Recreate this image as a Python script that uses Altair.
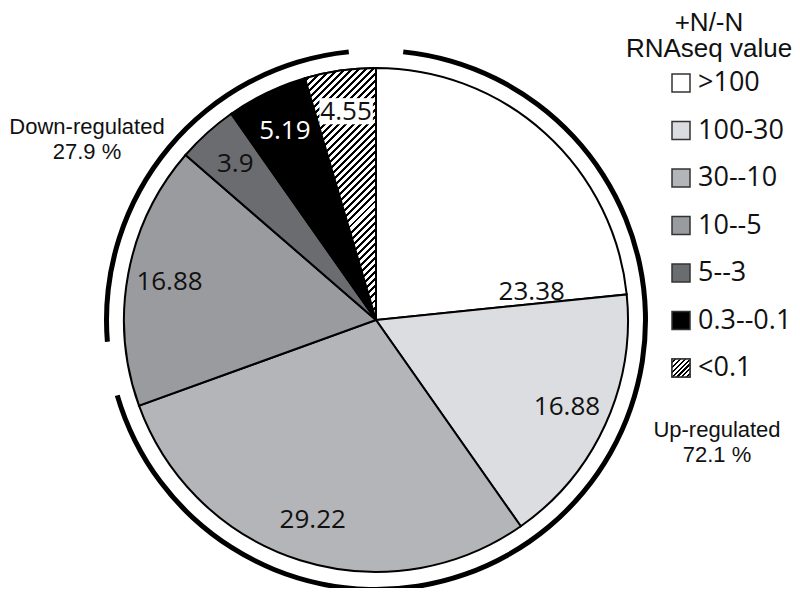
import math
import altair as alt
import pandas as pd

# ---------------- data ----------------
cats = [">100", "100-30", "30--10", "10--5", "5--3", "0.3--0.1", "<0.1"]
values = [23.38, 16.88, 29.22, 16.88, 3.9, 5.19, 4.55]
labels = ["23.38", "16.88", "29.22", "16.88", "3.9", "5.19", "4.55"]
colors = ["#ffffff", "#dcdde0", "#b4b5b8", "#9a9b9e", "#6b6c6f", "#000000", "#ffffff"]
legend_title = ["+N/-N", "RNAseq value"]
group_names = ["Up-regulated", "Down-regulated"]
group_pct = [72.1, 27.9]
hatched_cat = "<0.1"
white_label_cat = "0.3--0.1"

# ---------------- style ----------------
CX, CY = 368, 312          # pie centre (chart coords)
R = 252                    # pie radius
ARC_R0, ARC_R1 = 267, 272  # outer bracket arcs
GAP = math.radians(5.8)    # gap at ends of bracket arcs
LABEL_R = 210
FONT_NUM = "Open Sans"
FONT_TXT = "Liberation Sans"

df = pd.DataFrame({"cat": cats, "value": values, "label": labels,
                   "idx": list(range(len(cats)))})
df["main_label"] = [("" if i == 0 else l) for i, l in enumerate(labels)]
df["first_label"] = [(l if i == 0 else "") for i, l in enumerate(labels)]
df["box"] = [("\u2588\u2588\u2588\u2588" if c == hatched_cat else "") for c in cats]


def hatch(w, h, period, black_frac=0.4):
    k = (w + h) / (w * w + h * h)
    n = (w + h) / math.sqrt(2) / period
    stops = []
    i = 0
    while i / n < 1:
        o0 = min(i / n, 1)
        o1 = min((i + 1 - black_frac) / n, 1)
        o2 = min((i + 1) / n, 1)
        stops += [{"offset": o0, "color": "white"}, {"offset": o1, "color": "white"},
                  {"offset": o1, "color": "black"}, {"offset": o2, "color": "black"}]
        i += 1
    return {"gradient": "linear", "x1": 0, "y1": 0, "x2": k * w, "y2": k * h,
            "stops": stops}


total = sum(values)
hi = cats.index(hatched_cat)
a0 = sum(values[:hi]) / total * 2 * math.pi
a1 = sum(values[:hi + 1]) / total * 2 * math.pi
pts = [(0.0, 0.0), (R * math.sin(a0), -R * math.cos(a0)), (R * math.sin(a1), -R * math.cos(a1))]
for q in range(9):
    ang = q * math.pi / 2
    if a0 < ang < a1:
        pts.append((R * math.sin(ang), -R * math.cos(ang)))
bw = max(p[0] for p in pts) - min(p[0] for p in pts)
bh = max(p[1] for p in pts) - min(p[1] for p in pts)
wedge_hatch = hatch(bw, bh, 5.0, 0.42)
legend_hatch = hatch(18, 18, 3.4, 0.45)

base = alt.Chart(df)
theta = alt.Theta("value:Q", stack=True)
order = alt.Order("idx:Q", sort="ascending")
fill_scale = alt.Scale(domain=cats, range=colors)
px, py = alt.value(CX), alt.value(CY)

pie = base.mark_arc(radius=R, stroke="black", strokeWidth=2).encode(
    theta=theta, order=order, x=px, y=py,
    fill=alt.Fill("cat:N", scale=fill_scale, legend=None))

pie_hatch = base.mark_arc(radius=R, stroke="black", strokeWidth=2).encode(
    theta=theta, order=order, x=px, y=py,
    fill=alt.condition(alt.datum.cat == hatched_cat, alt.value(wedge_hatch),
                       alt.value("transparent")),
    strokeOpacity=alt.condition(alt.datum.cat == hatched_cat, alt.value(1), alt.value(0)))

box = base.mark_text(radius=LABEL_R, font="DejaVu Sans Mono", fontSize=22,
                     baseline="middle", color="white").encode(
    theta=theta, order=order, x=px, y=py, text="box:N")

lab = base.mark_text(radius=LABEL_R, font=FONT_NUM, fontSize=26, baseline="middle").encode(
    theta=theta, order=order, x=px, y=py, text="main_label:N",
    color=alt.condition(alt.datum.cat == white_label_cat, alt.value("white"),
                        alt.value("#111111")))

lab_first = base.mark_text(radius=LABEL_R, font=FONT_NUM, fontSize=26, baseline="middle",
                           dx=15, dy=128, color="#111111").encode(
    theta=theta, order=order, x=px, y=py, text="first_label:N")

# bracket arcs for up / down regulated
cum = 0.0
arc_layers = []
for g, p in zip(group_names, group_pct):
    t0 = cum / 100 * 2 * math.pi + GAP
    t1 = (cum + p) / 100 * 2 * math.pi - GAP
    cum += p
    arc_layers.append(
        alt.Chart(pd.DataFrame({"g": [g]})).mark_arc(color="black").encode(
            theta=alt.value(t0), theta2=alt.value(t1),
            radius=alt.value(ARC_R0), radius2=alt.value(ARC_R1), x=px, y=py))

one = alt.Chart(pd.DataFrame({"k": [0]}))
up_text = one.mark_text(font=FONT_TXT, fontSize=22, align="center", lineHeight=25,
                        baseline="alphabetic", color="#111").encode(
    x=alt.value(709), y=alt.value(429),
    text=alt.value([group_names[0], f"{group_pct[0]} %"]))
down_text = one.mark_text(font=FONT_TXT, fontSize=22, align="center", lineHeight=25,
                          baseline="alphabetic", color="#111").encode(
    x=alt.value(79), y=alt.value(126),
    text=alt.value([group_names[1], f"{group_pct[1]} %"]))
title_text = one.mark_text(font=FONT_TXT, fontSize=26, align="center", lineHeight=26,
                           baseline="alphabetic", color="#111").encode(
    x=alt.value(701), y=alt.value(23), text=alt.value(legend_title))

# manual legend
leg_y = alt.Y("cat:N", axis=None,
              scale=alt.Scale(type="point", domain=cats, range=[75, 360], padding=0))
leg_sq = base.mark_point(shape="square", filled=True, size=324, stroke="#333333",
                         strokeWidth=1.5, opacity=1).encode(
    x=alt.value(673), y=leg_y, fill=alt.Fill("cat:N", scale=fill_scale, legend=None))
leg_hatch = base.transform_filter(alt.datum.cat == hatched_cat).mark_point(
    shape="square", filled=True, size=324, stroke="#333333", strokeWidth=1.5,
    opacity=1).encode(x=alt.value(673), y=leg_y, fill=alt.value(legend_hatch))
leg_lab = base.mark_text(align="left", baseline="middle", font=FONT_NUM, fontSize=27,
                         color="#111").encode(x=alt.value(690), y=leg_y, text="cat:N")

chart = alt.layer(
    *arc_layers, pie, pie_hatch, box, lab, lab_first,
    up_text, down_text, title_text, leg_sq, leg_hatch, leg_lab
).properties(
    width=784, height=580, autosize="none", padding=0
).configure_view(stroke=None)

chart.save("out.html", embed_options={"renderer": "svg", "actions": False})
